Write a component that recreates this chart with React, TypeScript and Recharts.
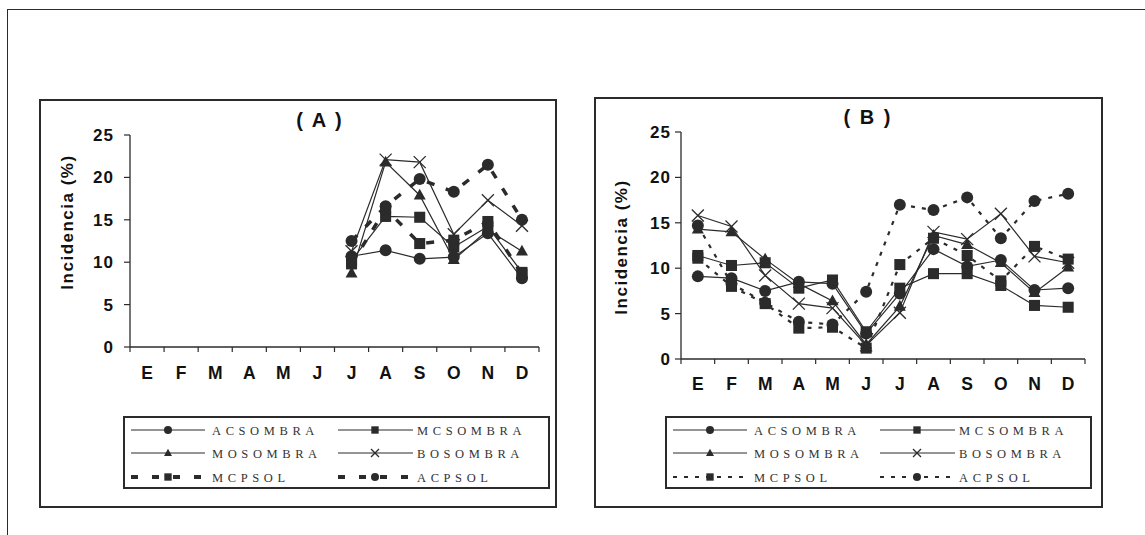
import React from 'react'
import { LineChart, Line, XAxis, YAxis } from 'recharts'

// month initials (Spanish)
const months = ['E', 'F', 'M', 'A', 'M', 'J', 'J', 'A', 'S', 'O', 'N', 'D']
const seriesNames = ['ACSOMBRA', 'MCSOMBRA', 'MOSOMBRA', 'BOSOMBRA', 'MCPSOL', 'ACPSOL']
const seriesShapes = ['circle', 'square', 'triangle', 'cross', 'square', 'circle']
const yTicks = [0, 5, 10, 15, 20, 25]

// panel (A): only July..December measured
const aAcSombra = [null, null, null, null, null, null, 10.7, 11.4, 10.4, 10.6, 13.4, 8.1]
const aMcSombra = [null, null, null, null, null, null, 10.2, 15.4, 15.3, 11.8, 14.2, 8.8]
const aMoSombra = [null, null, null, null, null, null, 8.7, 21.8, 17.9, 10.3, 13.8, 11.3]
const aBoSombra = [null, null, null, null, null, null, 11.3, 22.1, 21.8, 13.3, 17.3, 14.3]
const aMcpSol = [null, null, null, null, null, null, 9.8, 16.3, 12.2, 12.6, 14.8, 8.6]
const aAcpSol = [null, null, null, null, null, null, 12.5, 16.6, 19.8, 18.3, 21.5, 15.0]

// panel (B)
const bAcSombra = [9.1, 8.9, 7.5, 8.5, 8.3, 2.8, 7.2, 12.1, 10.2, 10.9, 7.6, 7.8]
const bMcSombra = [11.4, 10.3, 10.6, 7.8, 8.7, 3.0, 7.8, 9.4, 9.4, 8.1, 5.9, 5.7]
const bMoSombra = [14.3, 14.0, 11.0, 8.3, 6.4, 1.6, 5.8, 13.6, 12.6, 10.6, 7.3, 10.1]
const bBoSombra = [15.8, 14.6, 9.2, 6.1, 5.6, 1.5, 5.1, 14.0, 13.2, 16.0, 11.3, 10.6]
const bMcpSol = [11.1, 8.0, 6.1, 3.4, 3.5, 1.2, 10.4, 13.3, 11.4, 8.6, 12.4, 11.0]
const bAcpSol = [14.7, 8.3, 6.2, 4.1, 3.8, 7.4, 17.0, 16.4, 17.8, 13.3, 17.4, 18.2]

const buildRows = (cols: (number | null)[][]) =>
  months.map((m, i) => {
    const row: any = { x: i + 0.5, month: m }
    seriesNames.forEach((n, k) => (row[n] = cols[k][i]))
    return row
  })

const dataA = buildRows([aAcSombra, aMcSombra, aMoSombra, aBoSombra, aMcpSol, aAcpSol])
const dataB = buildRows([bAcSombra, bMcSombra, bMoSombra, bBoSombra, bMcpSol, bAcpSol])

const INK = '#2b2b2b'
const SANS = '"Liberation Sans", Arial, sans-serif'
const SERIF = '"Liberation Serif", "Times New Roman", serif'

function Marker({ shape, cx, cy, s }: { shape: string; cx: number; cy: number; s: number }) {
  if (shape === 'circle') return <circle cx={cx} cy={cy} r={s / 2} fill={INK} />
  if (shape === 'square') {
    const q = s * 0.92
    return <rect x={cx - q / 2} y={cy - q / 2} width={q} height={q} fill={INK} />
  }
  if (shape === 'triangle') {
    const h = s * 0.9
    return (
      <polygon
        points={`${cx},${cy - h * 0.6} ${cx - s / 2},${cy + h * 0.4} ${cx + s / 2},${cy + h * 0.4}`}
        fill={INK}
      />
    )
  }
  const d = s / 2
  return (
    <g stroke={INK} strokeWidth={1.3}>
      <line x1={cx - d} y1={cy - d} x2={cx + d} y2={cy + d} />
      <line x1={cx - d} y1={cy + d} x2={cx + d} y2={cy - d} />
    </g>
  )
}

const xTicks = Array.from({ length: 25 }, (_, i) => i / 2)

function MonthTick(props: any) {
  const { x, y, payload, labelDy } = props
  const v = payload.value
  if (Number.isInteger(v)) return <line x1={x} x2={x} y1={y} y2={y + 5} stroke={INK} strokeWidth={1.2} />
  return (
    <text x={x} y={y + labelDy} textAnchor="middle" fontFamily={SANS} fontWeight="bold" fontSize={17.5} fill="#111">
      {months[Math.floor(v)]}
    </text>
  )
}

type PanelProps = {
  data: any[]
  left: number
  top: number
  width: number
  height: number
  plot: { l: number; r: number; t: number; b: number }
  tickGap: number
  labelDy: number
  dash: string
  dashWidth: number
}

function Panel({ data, left, top, width, height, plot, tickGap, labelDy, dash, dashWidth }: PanelProps) {
  return (
    <div style={{ position: 'absolute', left, top, width, height }}>
      <LineChart
        width={width}
        height={height}
        data={data}
        margin={{ top: plot.t - top, right: left + width - plot.r, left: 0, bottom: 0 }}
      >
        <XAxis
          dataKey="x"
          type="number"
          domain={[0, 12]}
          ticks={xTicks}
          interval={0}
          height={top + height - plot.b}
          tickLine={false}
          tickSize={0}
          tickMargin={0}
          axisLine={{ stroke: INK, strokeWidth: 1.3 }}
          tick={<MonthTick labelDy={labelDy} />}
        />
        <YAxis
          type="number"
          domain={[0, 25]}
          ticks={yTicks}
          interval={0}
          width={plot.l - left}
          tickSize={6}
          tickMargin={tickGap}
          axisLine={{ stroke: INK, strokeWidth: 1.3 }}
          tickLine={{ stroke: INK, strokeWidth: 1.2 }}
          tick={{ fontFamily: SANS, fontWeight: 'bold', fontSize: 17, fill: '#111', letterSpacing: 1 }}
        />
        {seriesNames.map((name, k) => {
          const dashed = k >= 4
          return (
            <Line
              key={name}
              dataKey={name}
              type="linear"
              isAnimationActive={false}
              stroke={INK}
              strokeWidth={dashed ? dashWidth : 1.2}
              strokeDasharray={dashed ? dash : undefined}
              dot={(p: any) =>
                p.cy == null || p.value == null ? (
                  <g key={`${name}-${p.index}`} />
                ) : (
                  <g key={`${name}-${p.index}`}>
                    <Marker shape={seriesShapes[k]} cx={p.cx} cy={p.cy} s={12} />
                  </g>
                )
              }
              activeDot={false}
            />
          )
        })}
      </LineChart>
    </div>
  )
}

function LegendBox({ left, top, dash, dashWidth }: { left: number; top: number; dash: string; dashWidth: number }) {
  const rows = [14, 37, 61]
  const cols = [
    { l0: 8, l1: 82, m: 45, t: 89 },
    { l0: 215, l1: 290, m: 252, t: 294 },
  ]
  return (
    <div
      style={{
        position: 'absolute',
        left,
        top,
        width: 427,
        height: 73,
        border: `2px solid ${INK}`,
        boxSizing: 'border-box',
        background: '#fff',
      }}
    >
      <svg width={427} height={73} style={{ position: 'absolute', left: -2, top: -2 }}>
        {seriesNames.map((name, k) => {
          const r = rows[Math.floor(k / 2)]
          const c = cols[k % 2]
          const dashed = k >= 4
          return (
            <g key={name}>
              <line
                x1={c.l0}
                x2={c.l1}
                y1={r}
                y2={r}
                stroke={INK}
                strokeWidth={dashed ? dashWidth : 1}
                strokeDasharray={dashed ? dash : undefined}
              />
              <Marker shape={seriesShapes[k]} cx={c.m} cy={r} s={8} />
              <text x={c.t} y={r + 4.5} fontFamily={SERIF} fontSize={12.5} letterSpacing={4.6} fill="#333">
                {name}
              </text>
            </g>
          )
        })}
      </svg>
    </div>
  )
}

const boxStyle = (left: number, top: number, width: number, height: number): React.CSSProperties => ({
  position: 'absolute',
  left,
  top,
  width,
  height,
  border: `2px solid ${INK}`,
  boxSizing: 'border-box',
})

export default function App() {
  return (
    <div style={{ position: 'absolute', left: 0, top: 0, width: 1145, height: 535, background: '#fff', overflow: 'hidden' }}>
      {/* outer figure frame */}
      <div style={{ position: 'absolute', left: 7, top: 9, width: 1160, height: 560, border: `1.5px solid ${INK}` }} />
      <div style={boxStyle(39, 99, 518, 409)} />
      <div style={boxStyle(594, 97, 509, 411)} />

      <Panel
        data={dataA}
        left={40}
        top={99}
        width={516}
        height={408}
        plot={{ l: 130, r: 539, t: 135, b: 347 }}
        tickGap={10}
        labelDy={32}
        dash="8 12"
        dashWidth={3.5}
      />
      <Panel
        data={dataB}
        left={595}
        top={97}
        width={507}
        height={410}
        plot={{ l: 681, r: 1085, t: 132, b: 359 }}
        tickGap={4}
        labelDy={31}
        dash="4 7"
        dashWidth={2.2}
      />

      <svg width={1145} height={535} style={{ position: 'absolute', left: 0, top: 0, pointerEvents: 'none' }}>
        <text x={320} y={127} textAnchor="middle" fontFamily={SANS} fontWeight="bold" fontSize={20} letterSpacing={2} fill="#111">
          ( A )
        </text>
        <text x={868} y={124} textAnchor="middle" fontFamily={SANS} fontWeight="bold" fontSize={20} letterSpacing={2} fill="#111">
          ( B )
        </text>
        <text
          transform="translate(73,222) rotate(-90)"
          textAnchor="middle"
          fontFamily={SANS}
          fontWeight="bold"
          fontSize={17}
          letterSpacing={1.5}
          fill="#111"
        >
          Incidencia (%)
        </text>
        <text
          transform="translate(627,247) rotate(-90)"
          textAnchor="middle"
          fontFamily={SANS}
          fontWeight="bold"
          fontSize={17}
          letterSpacing={1.5}
          fill="#111"
        >
          Incidencia (%)
        </text>
      </svg>

      <LegendBox left={123} top={416} dash="7 14" dashWidth={4} />
      <LegendBox left={665} top={416} dash="4 7" dashWidth={2} />
    </div>
  )
}
